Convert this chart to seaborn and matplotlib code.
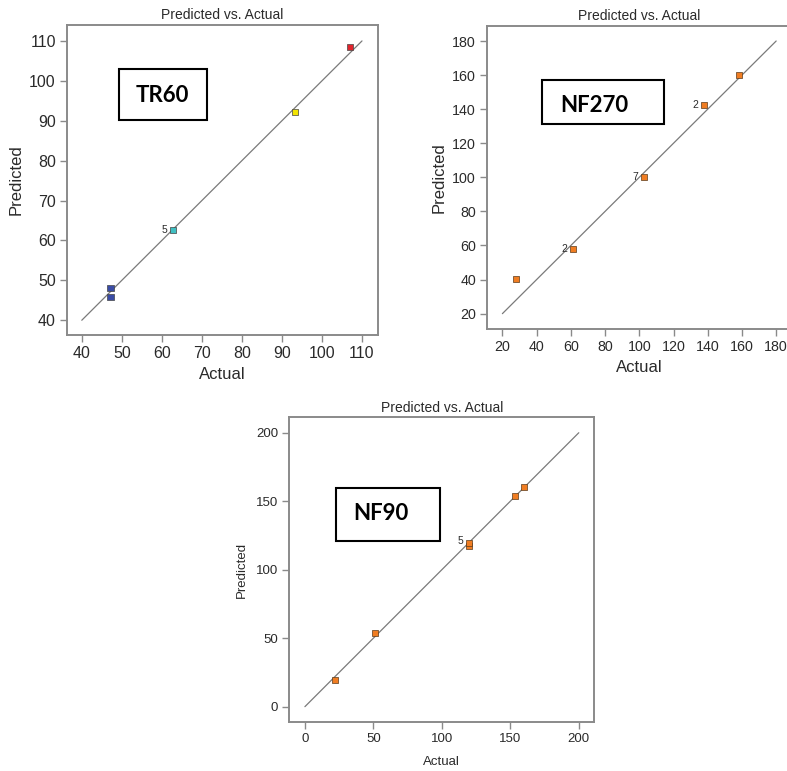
import matplotlib
matplotlib.use("Agg")
import matplotlib.pyplot as plt
import seaborn as sns
import pandas as pd

sns.set_theme(style="ticks")
plt.rcParams['font.family'] = ['Liberation Sans', 'DejaVu Sans']

# ---- data ----
tr60_actual = [107.0, 93.2, 62.7, 47.2, 47.2]
tr60_pred = [108.5, 92.1, 62.6, 48.0, 45.8]
tr60_group = ["hi", "mid", "c", "lo", "lo"]
tr60_colors = {"hi": "#e0242c", "mid": "#f2e400", "c": "#3fbfc2", "lo": "#3a4ca6"}
tr60_labels = [(62.7, 62.6, "5")]

nf270_actual = [27.8, 61.0, 102.6, 137.8, 158.3]
nf270_pred = [40.5, 58.0, 100.2, 142.6, 160.3]
nf270_labels = [(61.0, 58.0, "2"), (102.6, 100.2, "7"), (137.8, 142.6, "2")]

nf90_actual = [21.9, 51.0, 119.8, 119.5, 153.3, 160.2]
nf90_pred = [19.2, 54.0, 117.5, 119.6, 153.8, 160.4]
nf90_labels = [(119.5, 119.6, "5")]

orange = "#f07d22"
edge = "#5a3a1a"

fig = plt.figure(figsize=(7.87, 7.71), dpi=100)
ax1 = fig.add_axes([0.0851, 0.5655, 0.3952, 0.4021])
ax2 = fig.add_axes([0.6188, 0.5733, 0.3870, 0.3934])
ax3 = fig.add_axes([0.3676, 0.0632, 0.3875, 0.3956])

frame_col = "#8a8a8a"
txt_col = "#2a2a2a"


def style(ax, lim, ticks, tick_fs, lab_fs, title_fs, xpad=4, ypad=4):
    ax.set_xlim(*lim)
    ax.set_ylim(*lim)
    ax.set_xticks(ticks)
    ax.set_yticks(ticks)
    for s in ax.spines.values():
        s.set_color(frame_col)
        s.set_linewidth(1.4)
    ax.tick_params(direction="out", length=5, width=1.0, color=frame_col,
                   labelsize=tick_fs, labelcolor=txt_col, pad=3)
    ax.set_xlabel("Actual", fontsize=lab_fs, color=txt_col, labelpad=xpad)
    ax.set_ylabel("Predicted", fontsize=lab_fs, color=txt_col, labelpad=ypad)
    ax.set_title("Predicted vs. Actual", fontsize=title_fs, color=txt_col, pad=4)
    ax.grid(False)
    ax.set_facecolor("white")


def diag(ax, lo, hi):
    d = pd.DataFrame({"x": [lo, hi], "y": [lo, hi]})
    sns.lineplot(data=d, x="x", y="y", ax=ax, color="#7a7a7a", lw=0.9, zorder=1)


# Panel 1 TR60
diag(ax1, 40, 110)
d1 = pd.DataFrame({"Actual": tr60_actual, "Predicted": tr60_pred, "g": tr60_group})
sns.scatterplot(data=d1, x="Actual", y="Predicted", hue="g", palette=tr60_colors,
                marker="s", s=20, edgecolor="#444444", linewidth=0.5, ax=ax1,
                legend=False, zorder=3)
style(ax1, (36.3, 114), [40, 50, 60, 70, 80, 90, 100, 110], 11.5, 12, 10)
for x, y, t in tr60_labels:
    ax1.text(x - 1.4, y, t, fontsize=7.5, ha="right", va="center", color=txt_col)

# Panel 2 NF270
diag(ax2, 20, 180)
d2 = pd.DataFrame({"Actual": nf270_actual, "Predicted": nf270_pred})
sns.scatterplot(data=d2, x="Actual", y="Predicted", color=orange, marker="s", s=20,
                edgecolor=edge, linewidth=0.5, ax=ax2, legend=False, zorder=3)
style(ax2, (11, 189), [20, 40, 60, 80, 100, 120, 140, 160, 180], 10.3, 12, 10)
for x, y, t in nf270_labels:
    ax2.text(x - 3.2, y, t, fontsize=7.5, ha="right", va="center", color=txt_col)

# Panel 3 NF90
diag(ax3, 0, 200)
d3 = pd.DataFrame({"Actual": nf90_actual, "Predicted": nf90_pred})
sns.scatterplot(data=d3, x="Actual", y="Predicted", color=orange, marker="s", s=24,
                edgecolor=edge, linewidth=0.5, ax=ax3, legend=False, zorder=3)
style(ax3, (-11.4, 211.3), [0, 50, 100, 150, 200], 9.5, 9.5, 10, xpad=8, ypad=6)
for x, y, t in nf90_labels:
    ax3.text(x - 4.0, y + 1.5, t, fontsize=7.5, ha="right", va="center", color=txt_col)

# Annotation boxes (figure pixel coordinates -> fraction)
W, H = 787, 771


def box(x0, y0, x1, y1, text, tx, ty):
    r = plt.Rectangle((x0 / W, 1 - y1 / H), (x1 - x0) / W, (y1 - y0) / H,
                      transform=fig.transFigure, fill=True, facecolor="white",
                      edgecolor="black", lw=1.5, zorder=5)
    fig.add_artist(r)
    fig.text(tx / W, 1 - ty / H, text, fontsize=16, fontweight="bold",
             family=["Lato", "DejaVu Sans"], ha="left", va="center", color="black",
             zorder=6)


box(119, 69, 207, 120, "TR60", 136, 95)
box(542, 80, 664, 124, "NF270", 560, 105)
box(336, 488, 440, 541, "NF90", 353, 514)

fig.savefig("out.png", dpi=100, facecolor="white")
